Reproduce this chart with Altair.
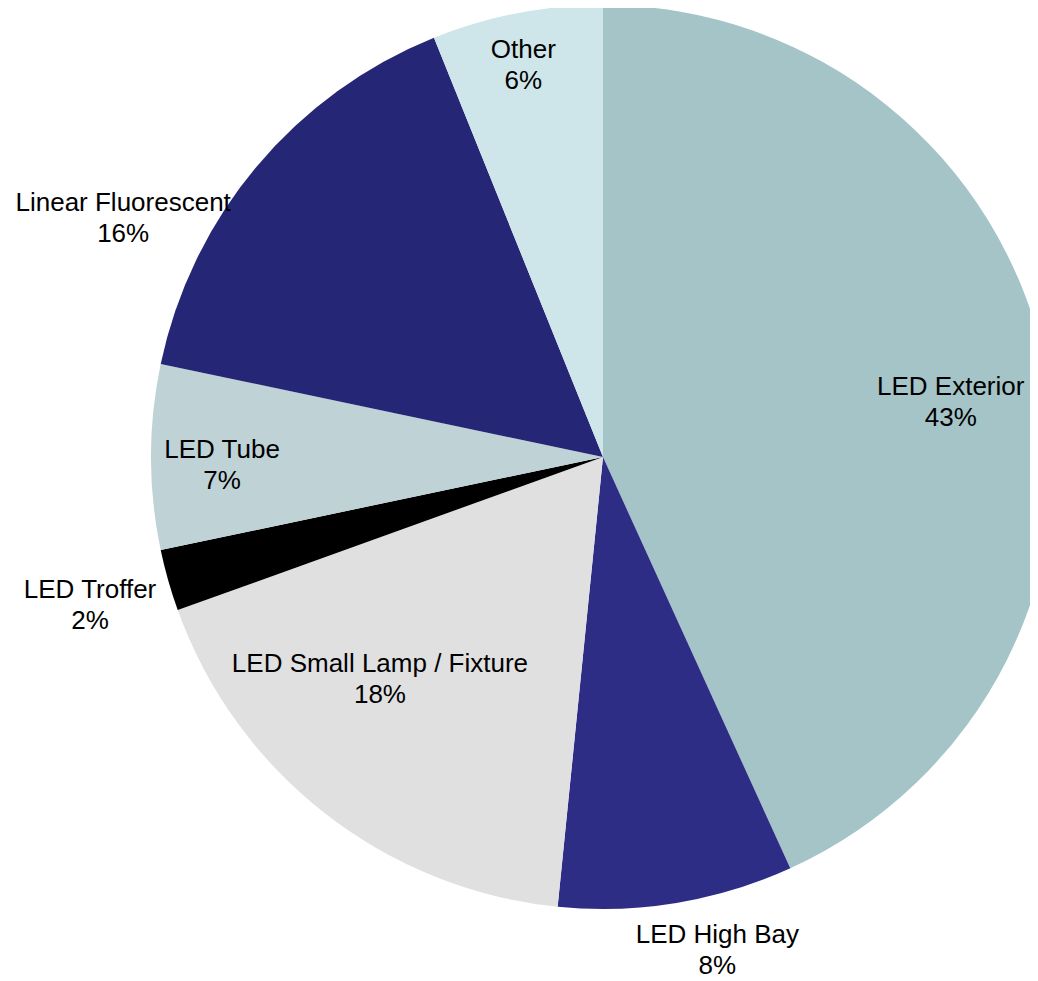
import math
import altair as alt
import pandas as pd

categories = ["LED Exterior", "LED High Bay", "LED Small Lamp / Fixture", "LED Troffer",
              "LED Tube", "Linear Fluorescent", "Other"]
shares = [43.2, 8.4, 17.9, 2.2, 6.6, 15.6, 6.1]
colors = ["#A4C4C7", "#2E2D86", "#E0E0E0", "#000000", "#BFD2D5", "#262676", "#CEE6EA"]

# label placement tweaks (layout only): radial distance (px) and angular nudge (deg)
label_radius = [352, 506, 315, 534, 381, 536, 400]
label_nudge = [3.3, -3.7, 7.1, -0.3, -1.2, -13.5, -0.5]

CX, CY, R = 595, 449, 452

rows = []
cum = 0.0
total = sum(shares)
for i, (c, v) in enumerate(zip(categories, shares)):
    mid = (cum + v / 2) / total * 2 * math.pi
    rows.append({
        "category": c,
        "value": v,
        "order": i,
        "label": f"{c}\n{round(v / total * 100)}%",
        "lab_theta": mid + math.radians(label_nudge[i]),
        "lab_r": label_radius[i],
    })
    cum += v
df = pd.DataFrame(rows)

arcs = alt.Chart(df).mark_arc(outerRadius=R, stroke=None).encode(
    theta=alt.Theta("value:Q", stack=True),
    order=alt.Order("order:Q", sort="ascending"),
    color=alt.Color("category:N", scale=alt.Scale(domain=categories, range=colors), legend=None),
    x=alt.value(CX),
    y=alt.value(CY),
)

labels = alt.Chart(df).mark_text(
    font="Liberation Sans", fontSize=26, lineHeight=31, lineBreak="\n",
    color="black", align="center", baseline="middle", dy=-15,
).encode(
    theta=alt.Theta("lab_theta:Q", scale=None),
    radius=alt.Radius("lab_r:Q", scale=None),
    text="label:N",
    x=alt.value(CX),
    y=alt.value(CY),
)

chart = alt.layer(arcs, labels).properties(
    width=1022, height=973, autosize=alt.AutoSizeParams(type="none"), padding=0
).configure_view(stroke=None)

chart.save("out.html", embed_options={"renderer": "svg", "actions": False})
